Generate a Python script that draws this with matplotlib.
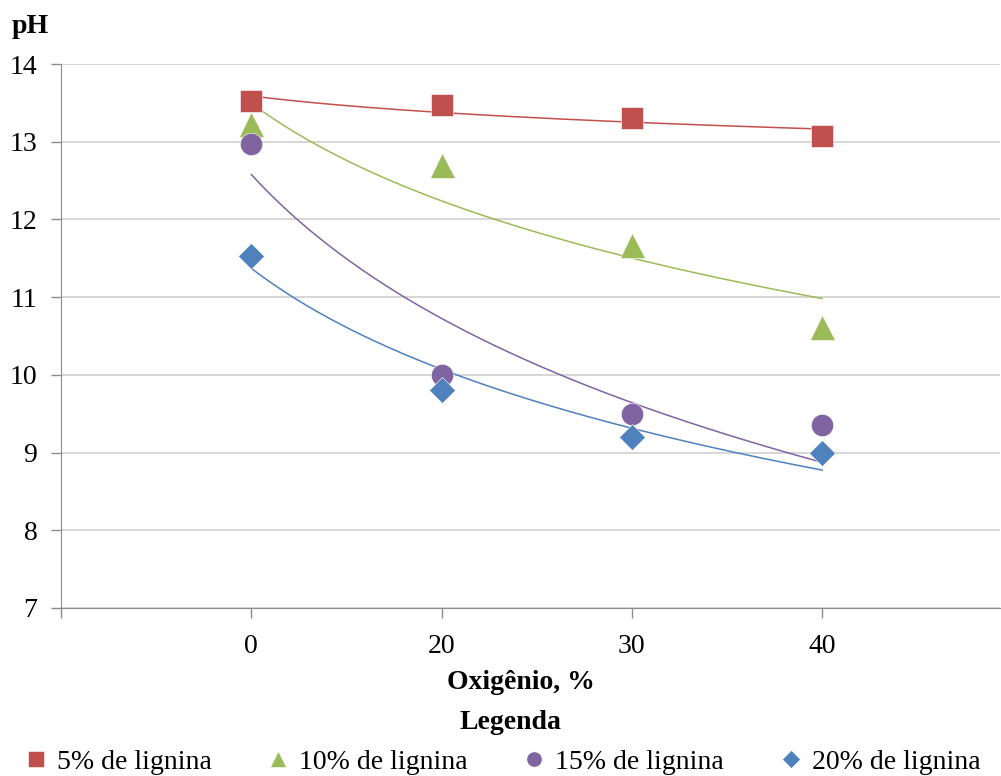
import numpy as np
import matplotlib
matplotlib.use("Agg")
import matplotlib.pyplot as plt

# data
oxigenio = ["0", "20", "30", "40"]
ph_5 = [13.53, 13.47, 13.31, 13.07]
ph_10 = [13.23, 12.70, 11.67, 10.62]
ph_15 = [12.97, 10.00, 9.50, 9.35]
ph_20 = [11.53, 9.80, 9.20, 9.00]

labels = ["5% de lignina", "10% de lignina", "15% de lignina", "20% de lignina"]
colors = ["#C0504D", "#9BBB59", "#8064A2", "#4F81BD"]
markers = ["s", "^", "o", "D"]
sizes = [16, 18, 16, 13]

plt.rcParams["font.family"] = ["Liberation Serif", "DejaVu Serif"]
plt.rcParams["font.size"] = 20

fig = plt.figure(figsize=(10.01, 7.76), dpi=100)
ax = fig.add_axes([0.061, 0.2165, 0.938, 0.701])

# category positions like excel (1..n)
pos = np.arange(1, len(oxigenio) + 1)
xs = np.linspace(1, len(oxigenio), 200)

handles = []
for ys, lab, c, m, s in zip([ph_5, ph_10, ph_15, ph_20], labels, colors, markers, sizes):
    h, = ax.plot(pos, ys, linestyle="none", marker=m, color=c, ms=s,
                 markeredgecolor="white", markeredgewidth=0.4, label=lab, zorder=3)
    handles.append(h)
    # logarithmic trendline
    a, b = np.polyfit(np.log(pos), ys, 1)
    ax.plot(xs, a * np.log(xs) + b, color=c, lw=1.1, zorder=2)

ax.set_ylim(7, 14)
ax.set_xlim(0, 4.935)
ax.set_yticks(range(7, 15))
ax.set_xticks(np.concatenate([[0], pos]))
ax.set_xticklabels([""] + oxigenio)
ax.grid(axis="y", color="#D0D0D0", lw=1.2)
ax.set_axisbelow(True)
for sp in ["top", "right"]:
    ax.spines[sp].set_visible(False)
for sp in ["left", "bottom"]:
    ax.spines[sp].set_color("#8C8C8C")
ax.tick_params(axis="both", color="#8C8C8C", length=7, width=1)
ax.tick_params(axis="x", pad=12)
ax.tick_params(axis="y", pad=10)

fig.text(0.012, 0.966, "pH", fontweight="bold", fontsize=20, ha="left", va="center")
fig.text(0.520, 0.120, "Oxigênio, %", fontweight="bold", ha="center", va="center")
fig.text(0.510, 0.069, "Legenda", fontweight="bold", ha="center", va="center")

leg_handles = []
for h, c, m in zip(handles, colors, markers):
    leg_handles.append(plt.Line2D([], [], linestyle="none", marker=m, color=c,
                                  ms=11 if m != "D" else 9, markeredgecolor="white",
                                  markeredgewidth=0.4))
fig.legend(leg_handles, labels, loc="center", bbox_to_anchor=(0.502, 0.018), ncol=4,
           frameon=False, columnspacing=2.0, handlelength=0.8, handletextpad=0.35,
           borderpad=0, fontsize=20)

fig.savefig("out.png", dpi=100)
